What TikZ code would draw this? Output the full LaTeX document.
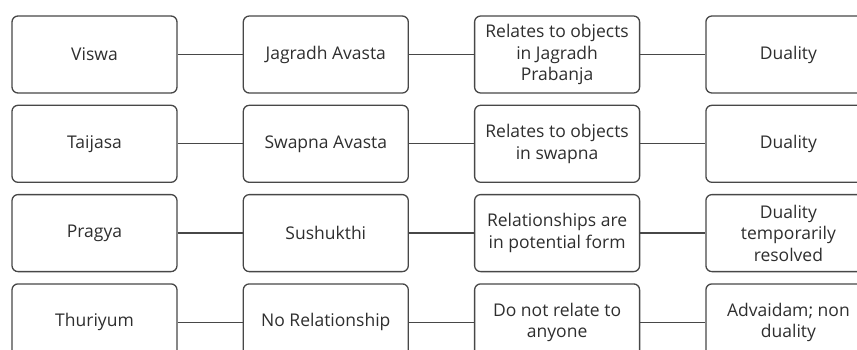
\documentclass[tikz,border=0pt]{standalone}
\usepackage{fontspec}
\setmainfont{Open Sans}
\usepackage{tikz}
\usetikzlibrary{positioning}

\tikzset{
  statebox/.style={draw=black!72, line width=1.3pt, rounded corners=6pt,
    minimum width=165pt, minimum height=77pt, inner sep=0pt,
    align=center, text=black!82, font=\fontsize{17.5}{21.5}\selectfont},
  link/.style={draw=black!72, line width=1.3pt}
}

\begin{document}
\begin{tikzpicture}[x=1pt,y=-1pt, node distance=11pt and 65pt]
\useasboundingbox (0,0) rectangle (857,349);
\clip (0,0) rectangle (857,349);

% First column (the states)
\node[statebox] (viswa) at (94.5,54.5) {Viswa};
\node[statebox, below=of viswa] (taijasa) {Taijasa};
\node[statebox, below=of taijasa] (pragya) {Pragya};
\node[statebox, below=of pragya] (thuriyum) {Thuriyum};

% Second column
\node[statebox, right=of viswa] (jagradh) {Jagradh Avasta};
\node[statebox, right=of taijasa] (swapna) {Swapna Avasta};
\node[statebox, right=of pragya] (sushukthi) {Sushukthi};
\node[statebox, right=of thuriyum] (norel) {No Relationship};

% Third column
\node[statebox, right=of jagradh] (relj) {Relates to objects\\in Jagradh\\Prabanja};
\node[statebox, right=of swapna] (rels) {Relates to objects\\in swapna};
\node[statebox, right=of sushukthi] (relp) {Relationships are\\in potential form};
\node[statebox, right=of norel] (reln) {Do not relate to\\anyone};

% Fourth column
\node[statebox, right=of relj] (dualj) {Duality};
\node[statebox, right=of rels] (duals) {Duality};
\node[statebox, right=of relp] (dualp) {Duality\\temporarily\\resolved};
\node[statebox, right=of reln] (dualn) {Advaidam; non\\duality};

% Connectors along each row
\foreach \a/\b/\c/\d in {viswa/jagradh/relj/dualj, taijasa/swapna/rels/duals,
    pragya/sushukthi/relp/dualp, thuriyum/norel/reln/dualn}
  \draw[link] (\a) -- (\b) (\b) -- (\c) (\c) -- (\d);
\end{tikzpicture}
\end{document}
